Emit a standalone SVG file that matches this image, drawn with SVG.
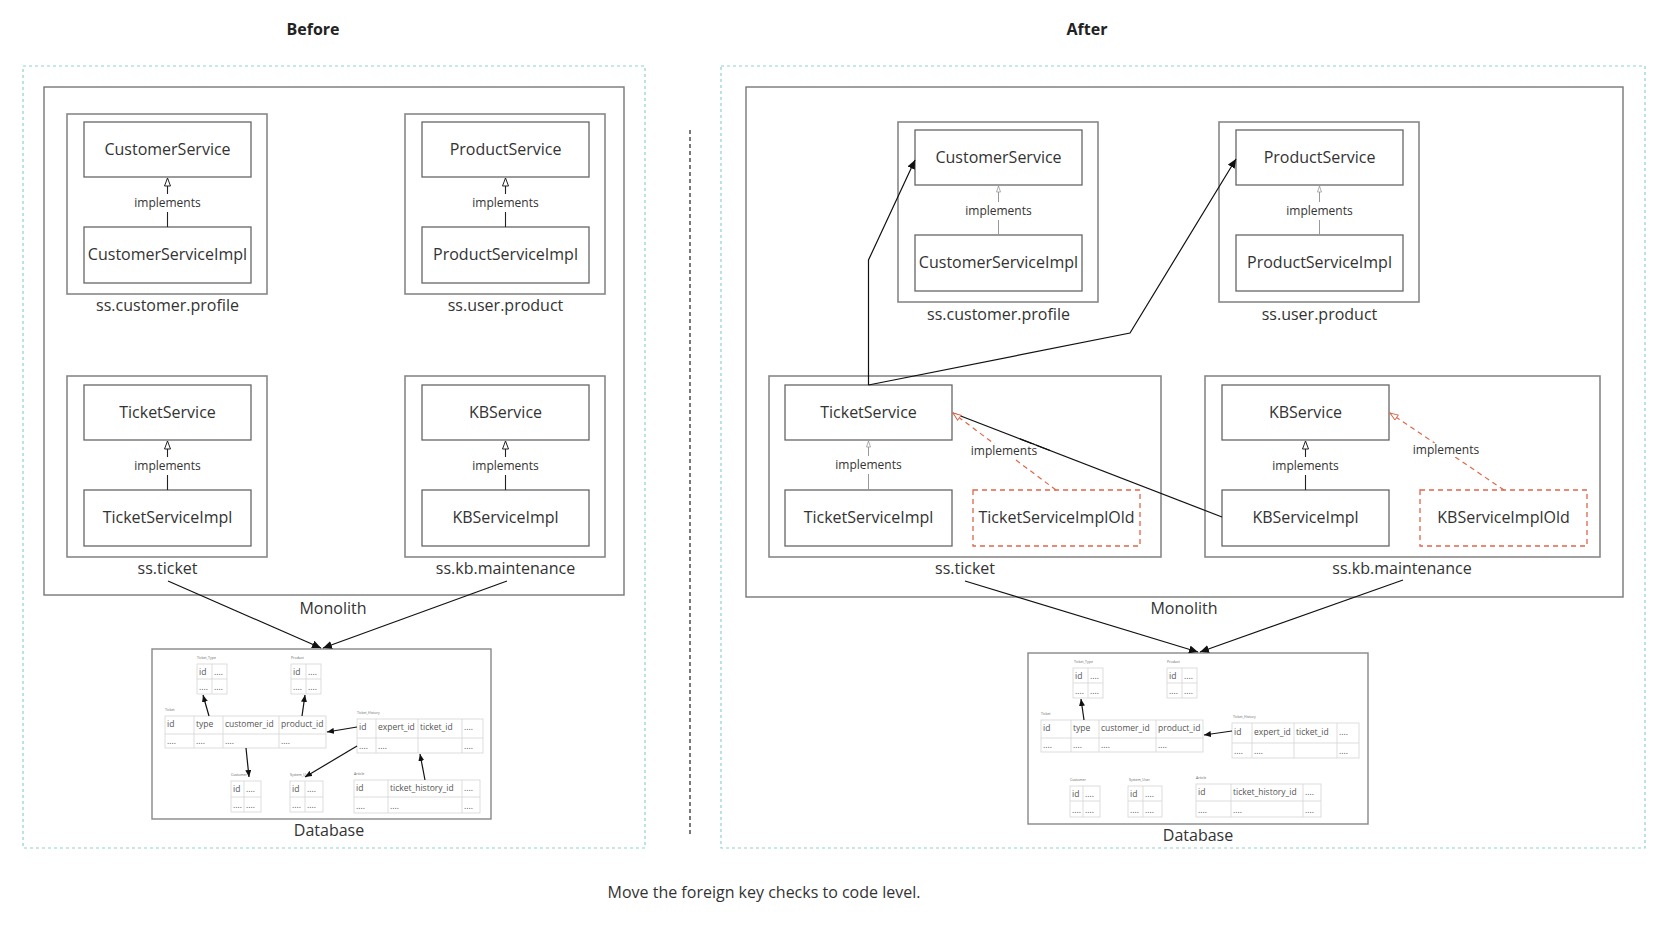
<svg xmlns="http://www.w3.org/2000/svg" width="1672" height="934" viewBox="0 0 1672 934">
<style>
text{font-family:"Open Sans","Liberation Sans",sans-serif;fill:#333}
.title{font-size:16px;font-weight:bold;text-anchor:middle;fill:#222}
.lbl{font-size:16px;text-anchor:middle}
.impl{font-size:12px;text-anchor:middle}
.box{fill:#fff;stroke:#666;stroke-width:1.3}
.pkg{fill:none;stroke:#888;stroke-width:1.6}
.old{fill:#fff;stroke:#e0664a;stroke-width:1.3;stroke-dasharray:5,4}
.mono{fill:none;stroke:#777;stroke-width:1.4}
.area{fill:none;stroke:#8fd3c8;stroke-width:1.2;stroke-dasharray:3,3}
.db{fill:#fff;stroke:#888;stroke-width:1.4}
.tb{fill:#fff;stroke:#d4d4d4;stroke-width:0.8}
.tl{stroke:#d4d4d4;stroke-width:0.8}
.tn{font-size:3.5px;fill:#666}
.tc{font-size:8.5px;fill:#555}
.arr{fill:none;stroke:#111;stroke-width:1.2}
.ia{fill:none;stroke:#222;stroke-width:1.1}
.ig{fill:none;stroke:#999;stroke-width:1}
.red{fill:none;stroke:#e0664a;stroke-width:1.2;stroke-dasharray:5,4}
.bg{fill:#fff}
</style>
<defs>
<marker id="fa" markerUnits="userSpaceOnUse" markerWidth="10" markerHeight="8" refX="9" refY="4" orient="auto"><path d="M0,0 L9,4 L0,8 z" fill="#111"/></marker>
<marker id="fs" markerUnits="userSpaceOnUse" markerWidth="8" markerHeight="6" refX="7" refY="3" orient="auto"><path d="M0,0 L7,3 L0,6 z" fill="#111"/></marker>
<marker id="ot" markerUnits="userSpaceOnUse" markerWidth="10" markerHeight="8" refX="8.5" refY="3.5" orient="auto"><path d="M0.5,0.5 L8.5,3.5 L0.5,6.5 z" fill="#fff" stroke="#222" stroke-width="1"/></marker>
<marker id="og" markerUnits="userSpaceOnUse" markerWidth="8" markerHeight="6" refX="6.5" refY="2.5" orient="auto"><path d="M0.5,0.5 L6.5,2.5 L0.5,4.5 z" fill="#fff" stroke="#999" stroke-width="0.8"/></marker>
<marker id="or" markerUnits="userSpaceOnUse" markerWidth="10" markerHeight="8" refX="8.5" refY="3.5" orient="auto"><path d="M0.5,0.5 L8.5,3.5 L0.5,6.5 z" fill="#fff" stroke="#e0664a" stroke-width="1"/></marker>
</defs>

<g id="titles">
<text class="title" x="313" y="35">Before</text>
<text class="title" x="1087" y="35">After</text>
<text x="764" y="898" style="font-size:16px;text-anchor:middle">Move the foreign key checks to code level.</text>
</g>

<g id="areas">
<rect class="area" x="23" y="66" width="622" height="782"/>
<rect class="area" x="721" y="66" width="924" height="782"/>
<line x1="690" y1="130" x2="690" y2="837" stroke="#222" stroke-width="1.2" stroke-dasharray="4,3"/>
</g>

<!-- BEFORE -->
<g id="before-monolith">
<rect class="mono" x="44" y="87" width="580" height="508"/>
<text class="lbl" x="333" y="614">Monolith</text>
</g>

<g id="before-customer">
<rect class="pkg" x="67" y="114" width="200" height="180"/>
<rect class="box" x="84" y="122" width="167" height="55"/>
<text class="lbl" x="167.5" y="155">CustomerService</text>
<rect class="box" x="84" y="227" width="167" height="56"/>
<text class="lbl" x="167.5" y="260">CustomerServiceImpl</text>
<text class="impl" x="167.5" y="207">implements</text>
<line class="ia" x1="167.5" y1="227" x2="167.5" y2="212"/>
<line class="ia" x1="167.5" y1="194" x2="167.5" y2="178" marker-end="url(#ot)"/>
<text class="lbl" x="167.5" y="311">ss.customer.profile</text>
</g>

<g id="before-product">
<rect class="pkg" x="405" y="114" width="200" height="180"/>
<rect class="box" x="422" y="122" width="167" height="55"/>
<text class="lbl" x="505.5" y="155">ProductService</text>
<rect class="box" x="422" y="227" width="167" height="56"/>
<text class="lbl" x="505.5" y="260">ProductServiceImpl</text>
<text class="impl" x="505.5" y="207">implements</text>
<line class="ia" x1="505.5" y1="227" x2="505.5" y2="212"/>
<line class="ia" x1="505.5" y1="194" x2="505.5" y2="178" marker-end="url(#ot)"/>
<text class="lbl" x="505.5" y="311">ss.user.product</text>
</g>

<g id="before-ticket">
<rect class="pkg" x="67" y="376" width="200" height="181"/>
<rect class="box" x="84" y="385" width="167" height="55"/>
<text class="lbl" x="167.5" y="418">TicketService</text>
<rect class="box" x="84" y="490" width="167" height="56"/>
<text class="lbl" x="167.5" y="523">TicketServiceImpl</text>
<text class="impl" x="167.5" y="470">implements</text>
<line class="ia" x1="167.5" y1="490" x2="167.5" y2="475"/>
<line class="ia" x1="167.5" y1="457" x2="167.5" y2="441" marker-end="url(#ot)"/>
<text class="lbl" x="167.5" y="574">ss.ticket</text>
</g>

<g id="before-kb">
<rect class="pkg" x="405" y="376" width="200" height="181"/>
<rect class="box" x="422" y="385" width="167" height="55"/>
<text class="lbl" x="505.5" y="418">KBService</text>
<rect class="box" x="422" y="490" width="167" height="56"/>
<text class="lbl" x="505.5" y="523">KBServiceImpl</text>
<text class="impl" x="505.5" y="470">implements</text>
<line class="ia" x1="505.5" y1="490" x2="505.5" y2="475"/>
<line class="ia" x1="505.5" y1="457" x2="505.5" y2="441" marker-end="url(#ot)"/>
<text class="lbl" x="505.5" y="574">ss.kb.maintenance</text>
</g>

<g id="before-database">
<rect class="db" x="152" y="649" width="339" height="170"/>
<text class="lbl" x="329" y="836">Database</text>
<text class="tn" x="197" y="659">Ticket_Type</text>
<rect class="tb" x="197" y="664" width="30" height="30"/>
<line class="tl" x1="212" y1="664" x2="212" y2="694"/><line class="tl" x1="197" y1="679" x2="227" y2="679"/>
<text class="tc" x="199" y="675">id</text><text class="tc" x="214" y="675">....</text>
<text class="tc" x="199" y="690">....</text><text class="tc" x="214" y="690">....</text>
<text class="tn" x="291" y="659">Product</text>
<rect class="tb" x="291" y="664" width="30" height="30"/>
<line class="tl" x1="306" y1="664" x2="306" y2="694"/><line class="tl" x1="291" y1="679" x2="321" y2="679"/>
<text class="tc" x="293" y="675">id</text><text class="tc" x="308" y="675">....</text>
<text class="tc" x="293" y="690">....</text><text class="tc" x="308" y="690">....</text>
<text class="tn" x="165" y="711">Ticket</text>
<rect class="tb" x="165" y="716" width="161" height="32"/>
<line class="tl" x1="194" y1="716" x2="194" y2="748"/><line class="tl" x1="223" y1="716" x2="223" y2="748"/><line class="tl" x1="279" y1="716" x2="279" y2="748"/>
<line class="tl" x1="165" y1="734" x2="326" y2="734"/>
<text class="tc" x="167" y="727">id</text><text class="tc" x="196" y="727">type</text><text class="tc" x="225" y="727">customer_id</text><text class="tc" x="281" y="727">product_id</text>
<text class="tc" x="167" y="744">....</text><text class="tc" x="196" y="744">....</text><text class="tc" x="225" y="744">....</text><text class="tc" x="281" y="744">....</text>
<text class="tn" x="357" y="714">Ticket_History</text>
<rect class="tb" x="357" y="719" width="126" height="34"/>
<line class="tl" x1="376" y1="719" x2="376" y2="753"/><line class="tl" x1="418" y1="719" x2="418" y2="753"/><line class="tl" x1="462" y1="719" x2="462" y2="753"/>
<line class="tl" x1="357" y1="738" x2="483" y2="738"/>
<text class="tc" x="359" y="730">id</text><text class="tc" x="378" y="730">expert_id</text><text class="tc" x="420" y="730">ticket_id</text><text class="tc" x="464" y="730">....</text>
<text class="tc" x="359" y="749">....</text><text class="tc" x="378" y="749">....</text><text class="tc" x="464" y="749">....</text>
<text class="tn" x="231" y="776">Customer</text>
<rect class="tb" x="231" y="781" width="30" height="31"/>
<line class="tl" x1="244" y1="781" x2="244" y2="812"/><line class="tl" x1="231" y1="797" x2="261" y2="797"/>
<text class="tc" x="233" y="792">id</text><text class="tc" x="246" y="792">....</text>
<text class="tc" x="233" y="808">....</text><text class="tc" x="246" y="808">....</text>
<text class="tn" x="290" y="776">System_User</text>
<rect class="tb" x="290" y="781" width="33" height="31"/>
<line class="tl" x1="305" y1="781" x2="305" y2="812"/><line class="tl" x1="290" y1="797" x2="323" y2="797"/>
<text class="tc" x="292" y="792">id</text><text class="tc" x="307" y="792">....</text>
<text class="tc" x="292" y="808">....</text><text class="tc" x="307" y="808">....</text>
<text class="tn" x="354" y="775">Article</text>
<rect class="tb" x="354" y="780" width="126" height="33"/>
<line class="tl" x1="388" y1="780" x2="388" y2="813"/><line class="tl" x1="462" y1="780" x2="462" y2="813"/>
<line class="tl" x1="354" y1="797" x2="480" y2="797"/>
<text class="tc" x="356" y="791">id</text><text class="tc" x="390" y="791">ticket_history_id</text><text class="tc" x="464" y="791">....</text>
<text class="tc" x="356" y="809">....</text><text class="tc" x="390" y="809">....</text><text class="tc" x="464" y="809">....</text>
<line class="arr" x1="209" y1="716" x2="203" y2="695" marker-end="url(#fs)"/>
<line class="arr" x1="302" y1="716" x2="305" y2="695" marker-end="url(#fs)"/>
<line class="arr" x1="357" y1="727" x2="327" y2="732" marker-end="url(#fs)"/>
<line class="arr" x1="246" y1="748" x2="249" y2="777" marker-end="url(#fs)"/>
<line class="arr" x1="357" y1="746" x2="305" y2="777" marker-end="url(#fs)"/>
<line class="arr" x1="425" y1="780" x2="420" y2="754" marker-end="url(#fs)"/>
</g>

<!-- AFTER -->
<g id="after-monolith">
<rect class="mono" x="746" y="87" width="877" height="510"/>
<text class="lbl" x="1184" y="614">Monolith</text>
</g>

<g id="after-customer">
<rect class="pkg" x="898" y="122" width="200" height="180"/>
<rect class="box" x="915" y="130" width="167" height="55"/>
<text class="lbl" x="998.5" y="163">CustomerService</text>
<rect class="box" x="915" y="235" width="167" height="56"/>
<text class="lbl" x="998.5" y="268">CustomerServiceImpl</text>
<text class="impl" x="998.5" y="215">implements</text>
<line class="ig" x1="998.5" y1="235" x2="998.5" y2="220"/>
<line class="ig" x1="998.5" y1="202" x2="998.5" y2="186" marker-end="url(#og)"/>
<text class="lbl" x="998.5" y="320">ss.customer.profile</text>
</g>

<g id="after-product">
<rect class="pkg" x="1219" y="122" width="200" height="180"/>
<rect class="box" x="1236" y="130" width="167" height="55"/>
<text class="lbl" x="1319.5" y="163">ProductService</text>
<rect class="box" x="1236" y="235" width="167" height="56"/>
<text class="lbl" x="1319.5" y="268">ProductServiceImpl</text>
<text class="impl" x="1319.5" y="215">implements</text>
<line class="ig" x1="1319.5" y1="235" x2="1319.5" y2="220"/>
<line class="ig" x1="1319.5" y1="202" x2="1319.5" y2="186" marker-end="url(#og)"/>
<text class="lbl" x="1319.5" y="320">ss.user.product</text>
</g>

<g id="after-ticket">
<rect class="pkg" x="769" y="376" width="392" height="181"/>
<rect class="box" x="785" y="385" width="167" height="55"/>
<text class="lbl" x="868.5" y="418">TicketService</text>
<rect class="box" x="785" y="490" width="167" height="56"/>
<text class="lbl" x="868.5" y="523">TicketServiceImpl</text>
<rect class="old" x="973" y="490" width="167" height="56"/>
<text class="lbl" x="1056.5" y="523">TicketServiceImplOld</text>
<text class="impl" x="868.5" y="469">implements</text>
<line class="ig" x1="868.5" y1="490" x2="868.5" y2="474"/>
<line class="ig" x1="868.5" y1="456" x2="868.5" y2="441" marker-end="url(#og)"/>
<text class="lbl" x="965" y="574">ss.ticket</text>
</g>

<g id="after-kb">
<rect class="pkg" x="1205" y="376" width="395" height="181"/>
<rect class="box" x="1222" y="385" width="167" height="55"/>
<text class="lbl" x="1305.5" y="418">KBService</text>
<rect class="box" x="1222" y="490" width="167" height="56"/>
<text class="lbl" x="1305.5" y="523">KBServiceImpl</text>
<rect class="old" x="1420" y="490" width="167" height="56"/>
<text class="lbl" x="1503.5" y="523">KBServiceImplOld</text>
<text class="impl" x="1305.5" y="470">implements</text>
<line class="ia" x1="1305.5" y1="490" x2="1305.5" y2="475"/>
<line class="ia" x1="1305.5" y1="457" x2="1305.5" y2="441" marker-end="url(#ot)"/>
<text class="lbl" x="1402" y="574">ss.kb.maintenance</text>
</g>

<g id="after-database">
<rect class="db" x="1028" y="653" width="340" height="171"/>
<text class="lbl" x="1198" y="841">Database</text>
<text class="tn" x="1074" y="663">Ticket_Type</text>
<rect class="tb" x="1073" y="668" width="30" height="30"/>
<line class="tl" x1="1088" y1="668" x2="1088" y2="698"/><line class="tl" x1="1073" y1="683" x2="1103" y2="683"/>
<text class="tc" x="1075" y="679">id</text><text class="tc" x="1090" y="679">....</text>
<text class="tc" x="1075" y="694">....</text><text class="tc" x="1090" y="694">....</text>
<text class="tn" x="1167" y="663">Product</text>
<rect class="tb" x="1167" y="668" width="30" height="30"/>
<line class="tl" x1="1182" y1="668" x2="1182" y2="698"/><line class="tl" x1="1167" y1="683" x2="1197" y2="683"/>
<text class="tc" x="1169" y="679">id</text><text class="tc" x="1184" y="679">....</text>
<text class="tc" x="1169" y="694">....</text><text class="tc" x="1184" y="694">....</text>
<text class="tn" x="1041" y="715">Ticket</text>
<rect class="tb" x="1041" y="720" width="162" height="32"/>
<line class="tl" x1="1071" y1="720" x2="1071" y2="752"/><line class="tl" x1="1099" y1="720" x2="1099" y2="752"/><line class="tl" x1="1156" y1="720" x2="1156" y2="752"/>
<line class="tl" x1="1041" y1="738" x2="1203" y2="738"/>
<text class="tc" x="1043" y="731">id</text><text class="tc" x="1073" y="731">type</text><text class="tc" x="1101" y="731">customer_id</text><text class="tc" x="1158" y="731">product_id</text>
<text class="tc" x="1043" y="748">....</text><text class="tc" x="1073" y="748">....</text><text class="tc" x="1101" y="748">....</text><text class="tc" x="1158" y="748">....</text>
<text class="tn" x="1233" y="718">Ticket_History</text>
<rect class="tb" x="1232" y="723" width="127" height="35"/>
<line class="tl" x1="1252" y1="723" x2="1252" y2="758"/><line class="tl" x1="1294" y1="723" x2="1294" y2="758"/><line class="tl" x1="1337" y1="723" x2="1337" y2="758"/>
<line class="tl" x1="1232" y1="743" x2="1359" y2="743"/>
<text class="tc" x="1234" y="735">id</text><text class="tc" x="1254" y="735">expert_id</text><text class="tc" x="1296" y="735">ticket_id</text><text class="tc" x="1339" y="735">....</text>
<text class="tc" x="1234" y="754">....</text><text class="tc" x="1254" y="754">....</text><text class="tc" x="1339" y="754">....</text>
<text class="tn" x="1070" y="781">Customer</text>
<rect class="tb" x="1070" y="786" width="30" height="31"/>
<line class="tl" x1="1083" y1="786" x2="1083" y2="817"/><line class="tl" x1="1070" y1="801" x2="1100" y2="801"/>
<text class="tc" x="1072" y="797">id</text><text class="tc" x="1085" y="797">....</text>
<text class="tc" x="1072" y="813">....</text><text class="tc" x="1085" y="813">....</text>
<text class="tn" x="1129" y="781">System_User</text>
<rect class="tb" x="1128" y="786" width="34" height="31"/>
<line class="tl" x1="1143" y1="786" x2="1143" y2="817"/><line class="tl" x1="1128" y1="801" x2="1162" y2="801"/>
<text class="tc" x="1130" y="797">id</text><text class="tc" x="1145" y="797">....</text>
<text class="tc" x="1130" y="813">....</text><text class="tc" x="1145" y="813">....</text>
<text class="tn" x="1196" y="779">Article</text>
<rect class="tb" x="1196" y="784" width="125" height="33"/>
<line class="tl" x1="1231" y1="784" x2="1231" y2="817"/><line class="tl" x1="1303" y1="784" x2="1303" y2="817"/>
<line class="tl" x1="1196" y1="801" x2="1321" y2="801"/>
<text class="tc" x="1198" y="795">id</text><text class="tc" x="1233" y="795">ticket_history_id</text><text class="tc" x="1305" y="795">....</text>
<text class="tc" x="1198" y="813">....</text><text class="tc" x="1233" y="813">....</text><text class="tc" x="1305" y="813">....</text>
<line class="arr" x1="1084" y1="720" x2="1081" y2="699" marker-end="url(#fs)"/>
<line class="arr" x1="1232" y1="731" x2="1204" y2="735" marker-end="url(#fs)"/>
</g>

<g id="connectors">
<line class="arr" x1="168" y1="581" x2="321" y2="648" marker-end="url(#fa)"/>
<line class="arr" x1="507" y1="581" x2="323" y2="648" marker-end="url(#fa)"/>
<line class="arr" x1="965" y1="581" x2="1198" y2="652" marker-end="url(#fa)"/>
<line class="arr" x1="1403" y1="580" x2="1200" y2="652" marker-end="url(#fa)"/>
<polyline class="arr" points="868.5,385 868.5,260 915,160" marker-end="url(#fa)"/>
<polyline class="arr" points="868.5,385 1130,333 1236,159" marker-end="url(#fa)"/>
<line class="arr" x1="1222" y1="517" x2="953" y2="413"/>
<line class="red" x1="1056" y1="490" x2="953" y2="413" marker-end="url(#or)"/>
<line class="red" x1="1504" y1="490" x2="1390" y2="413" marker-end="url(#or)"/>
<rect class="bg" x="972" y="444" width="64" height="14"/>
<text class="impl" x="1004" y="455">implements</text>
<rect class="bg" x="1414" y="443" width="64" height="14"/>
<text class="impl" x="1446" y="454">implements</text>
<line class="arr" x1="1020" y1="438.9" x2="1050" y2="450.5"/>
</g>
</svg>
